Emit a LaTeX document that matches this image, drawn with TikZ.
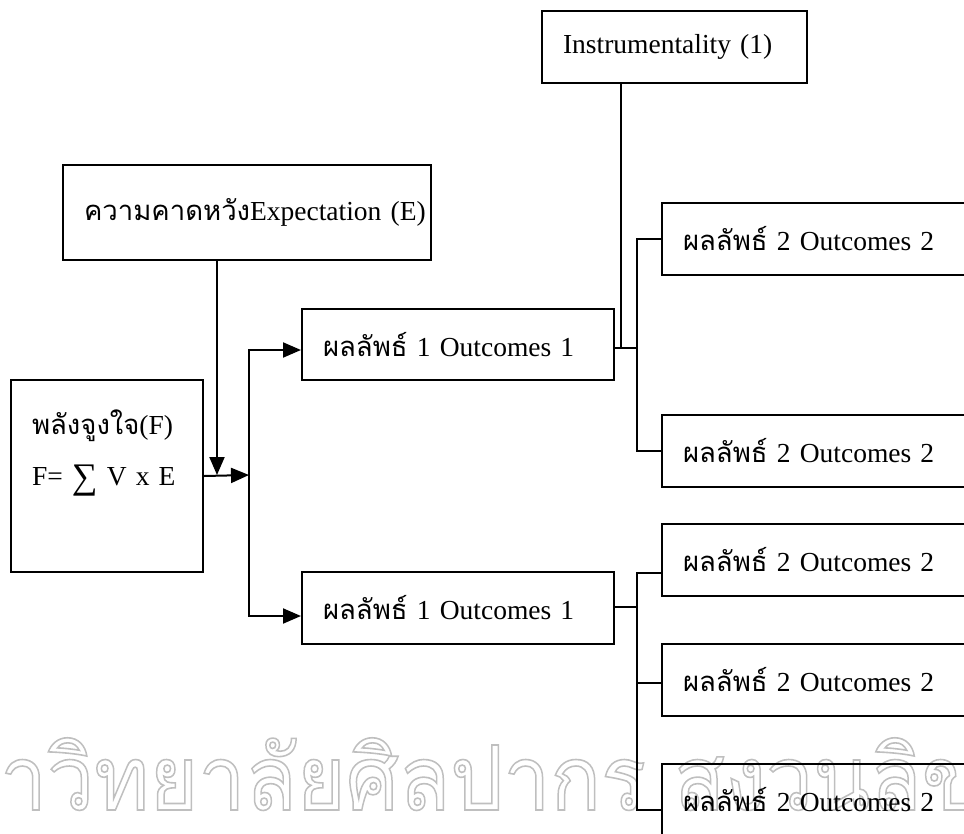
\documentclass[tikz,border=0pt]{standalone}
\usepackage{fontspec}
\setmainfont{Liberation Serif}
\newfontfamily\thaifont[Script=Thai,Scale=1.0]{Loma}
\newfontfamily\stampfont[Script=Thai]{Loma}
\usepackage{tikz}
\usetikzlibrary{positioning}
\usetikzlibrary{arrows.meta}
\newcommand{\thai}[1]{{\thaifont #1}}
\newcommand{\bigsum}{\raisebox{-3pt}{\fontsize{36pt}{36pt}\selectfont ∑}}
\newcommand{\hollow}[1]{\special{pdf:literal direct 1 Tr 1.6 w}#1\special{pdf:literal direct 0 Tr}}
\tikzset{box/.style={draw,line width=2pt,rectangle,anchor=north west,align=left,
  inner xsep=21pt,inner ysep=0pt,font=\fontsize{27.5pt}{33pt}\selectfont}}
\tikzset{wire/.style={line width=2pt}}
\tikzset{tip/.style={-{Triangle[length=18pt,width=15pt]}}}

\begin{document}
\begin{tikzpicture}[x=1pt,y=-1pt]
\clip (0,0) rectangle (964,833);
% watermark
\node[anchor=base west,inner sep=0,text=black!25,xscale=0.93,
  font=\stampfont\fontsize{90pt}{90pt}\selectfont] (stamp) at (0,810)
  {\hollow{\llap{มห}าวิทยาลัยศิลปากร สงวนลิขสิทธิ์}};
% boxes
\node[box,text width=223pt,minimum height=72pt] (instr) at (541,10) {Instrumentality (1)};
\node[box,text width=326pt,minimum height=95pt] (expect) at (62,164)
  {\mbox{\thai{ความคาดหวัง}Expectation (E)}};
\node[box,text width=150pt,minimum height=192pt] (force) at (10,379)
  {\thai{พลังจูงใจ}(F)\\[18pt]F= \bigsum{} V x E\\[24pt]\mbox{}};
\node[box,text width=270pt,minimum height=71pt] (out1a) at (301,308)
  {\mbox{\thai{ผลลัพธ์} 1 Outcomes 1}};
\node[box,text width=270pt,minimum height=72pt] (out1b) at (301,571)
  {\mbox{\thai{ผลลัพธ์} 1 Outcomes 1}};
\foreach \n/\y in {a/202,b/414,c/523,d/643,e/763} {
\node[box,text width=298pt,minimum height=72pt] (out2\n) at (661,\y)
  {\mbox{\thai{ผลลัพธ์} 2 Outcomes 2}};
}
% connectors
\coordinate (join) at (217,475);
\coordinate (split) at (249,475);
\coordinate (hubI) at (621,348);
\coordinate (hubA) at (637,348);
\coordinate (hubB) at (637,607);
\draw[wire,tip] (expect.south -| join) -- (join);
\draw[wire,tip] (force.east) -- (split);
\draw[wire,tip] (split) |- ([yshift=-5.5pt]out1a.west);
\draw[wire,tip] (split) |- ([yshift=-8pt]out1b.west);
\draw[wire] (instr.south -| hubI) -- (hubI);
\draw[wire] (out1a.east |- hubA) -- (hubA);
\draw[wire] (hubA) |- (out2a.west);
\draw[wire] (hubA) |- (out2b.west);
\draw[wire] (out1b.east |- hubB) -- (hubB);
\draw[wire] (hubB) |- ([yshift=-13pt]out2c.west);
\draw[wire] (hubB) |- ([yshift=-2.5pt]out2d.west);
\draw[wire] (hubB) |- ([yshift=-10pt]out2e.west);
\end{tikzpicture}
\end{document}
